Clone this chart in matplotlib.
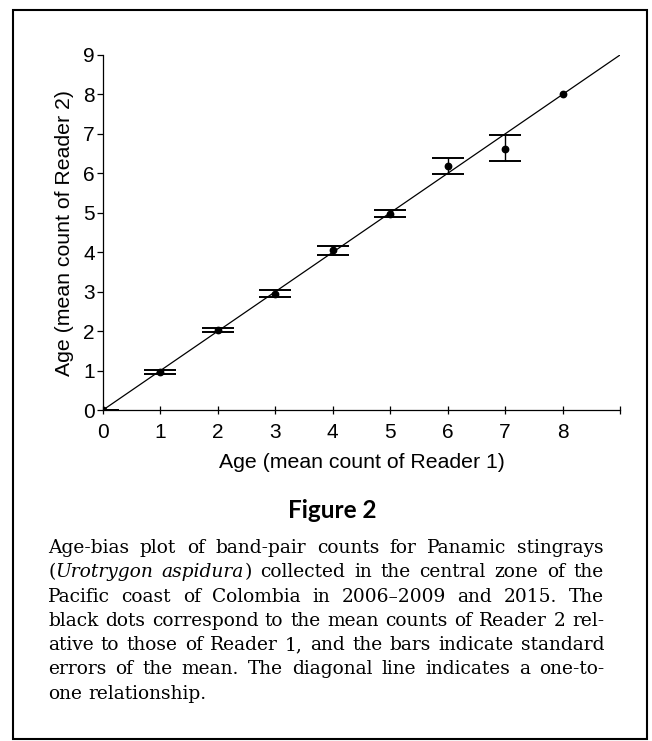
import numpy as np
import matplotlib
matplotlib.use("Agg")
import matplotlib.pyplot as plt
from matplotlib.patches import Rectangle
from matplotlib.font_manager import FontProperties

# ---------------- data ----------------
reader1 = [0, 1, 2, 3, 4, 5, 6, 7, 8]
reader2_mean = [0.0, 0.96, 2.02, 2.94, 4.06, 4.97, 6.19, 6.62, 8.0]
se_below = [0.0, 0.05, 0.05, 0.08, 0.12, 0.08, 0.21, 0.31, np.nan]
se_above = [0.0, 0.05, 0.05, 0.10, 0.11, 0.10, 0.20, 0.36, np.nan]
one_to_one = [0, 9]
x_ticks = [0, 1, 2, 3, 4, 5, 6, 7, 8, 9]
x_tick_labels = ["0", "1", "2", "3", "4", "5", "6", "7", "8", ""]
y_ticks = [0, 1, 2, 3, 4, 5, 6, 7, 8, 9]
x_label = "Age (mean count of Reader 1)"
y_label = "Age (mean count of Reader 2)"
fig_title = "Figure 2"
caption_lines = [
    "Age-bias plot of band-pair counts for Panamic stingrays",
    "(_Urotrygon_ _aspidura_) collected in the central zone of the",
    "Pacific coast of Colombia in 2006\u20132009 and 2015. The",
    "black dots correspond to the mean counts of Reader 2 rel-",
    "ative to those of Reader 1, and the bars indicate standard",
    "errors of the mean. The diagonal line indicates a one-to-",
    "one relationship.",
]

# ---------------- figure ----------------
W, H = 652, 741
fig = plt.figure(figsize=(W / 100, H / 100), dpi=100)
fig.patch.set_facecolor("white")

ax = fig.add_axes([103 / W, 1 - 410 / H, 517 / W, 355 / H])
ax.plot(one_to_one, one_to_one, color="black", lw=0.9, zorder=2)

x = np.array(reader1, dtype=float)
y = np.array(reader2_mean, dtype=float)
lo = np.array(se_below, dtype=float)
hi = np.array(se_above, dtype=float)
m = np.isfinite(lo) & np.isfinite(hi)
eb = ax.errorbar(x[m], y[m], yerr=[lo[m], hi[m]], fmt="none", ecolor="black",
                 elinewidth=1.0, capsize=11.5, capthick=1.4, zorder=3)
for cl in eb[1]:
    cl.set_color("#4a4a4a")
ax.plot(x, y, "o", color="black", ms=4.6, zorder=4)

ax.set_xlim(0, 9)
ax.set_ylim(0, 9)
for s in ("top", "right"):
    ax.spines[s].set_visible(False)
for s in ("left", "bottom"):
    ax.spines[s].set_linewidth(0.9)
ax.set_xticks(x_ticks)
ax.set_xticklabels(x_tick_labels)
ax.set_yticks(y_ticks)
ax.tick_params(axis="x", direction="inout", length=6, width=0.9, pad=6)
ax.tick_params(axis="y", direction="out", length=4, width=0.9, pad=2)
for lab in ax.get_xticklabels() + ax.get_yticklabels():
    lab.set_fontfamily("Liberation Sans")
    lab.set_fontsize(15)

ax.set_xlabel(x_label, fontfamily="Liberation Sans", fontsize=15.3)
ax.set_ylabel(y_label, fontfamily="Liberation Sans", fontsize=15.3)
ax.xaxis.set_label_coords(0.5, (410 - 462) / 355)
ax.xaxis.label.set_va("center")
ax.yaxis.set_label_coords((65 - 103) / 517, 0.5)
ax.yaxis.label.set_va("center")

# title
fig.text(332 / W, 1 - 510 / H, fig_title, ha="center", va="center",
         fontfamily="Lato", fontweight="bold", fontsize=17.5)

# frame
fig.patches.append(Rectangle((13 / W, 1 - 739 / H), (647 - 13) / W, (739 - 10) / H,
                             transform=fig.transFigure, fill=False, lw=1.5,
                             ec="black"))

# ---------------- justified caption ----------------
renderer = fig.canvas.get_renderer()


def parse_word(word):
    parts = word.split("_")
    runs = []
    italic = False
    for p in parts:
        if p:
            runs.append((p, italic))
        italic = not italic
    return runs


def measure(s, size, italic):
    fp = FontProperties(family="DejaVu Serif", size=size,
                        style="italic" if italic else "normal")
    t = fig.text(0, 0, s, fontproperties=fp)
    w = t.get_window_extent(renderer).width
    t.remove()
    return w


left_px, right_px = 48, 604
target = right_px - left_px


def line_natural(line, size):
    words = [parse_word(w) for w in line.split(" ")]
    ww = sum(measure(r, size, it) for wd in words for r, it in wd)
    sp = measure("a a", size, False) - measure("aa", size, False)
    return ww + sp * (len(words) - 1)


base_size = 12.0
max_nat = max(line_natural(l, base_size) for l in caption_lines[:-1])
cap_size = base_size * target * 0.99 / max_nat

baseline0 = 553
line_step = 24.3
space_w = measure("a a", cap_size, False) - measure("aa", cap_size, False)
for i, line in enumerate(caption_lines):
    words = [parse_word(w) for w in line.split(" ")]
    widths = [[measure(r, cap_size, it) for r, it in wd] for wd in words]
    total = sum(sum(w) for w in widths)
    last = i == len(caption_lines) - 1
    gap = space_w if last or len(words) < 2 else (target - total) / (len(words) - 1)
    xpos = left_px
    ybase = baseline0 + i * line_step
    for wd, wl in zip(words, widths):
        for (r, it), w in zip(wd, wl):
            fig.text(xpos / W, 1 - ybase / H, r, ha="left", va="baseline",
                     fontfamily="DejaVu Serif", fontsize=cap_size,
                     fontstyle="italic" if it else "normal", color="black")
            xpos += w
        xpos += gap

fig.savefig("out.png", dpi=100)
